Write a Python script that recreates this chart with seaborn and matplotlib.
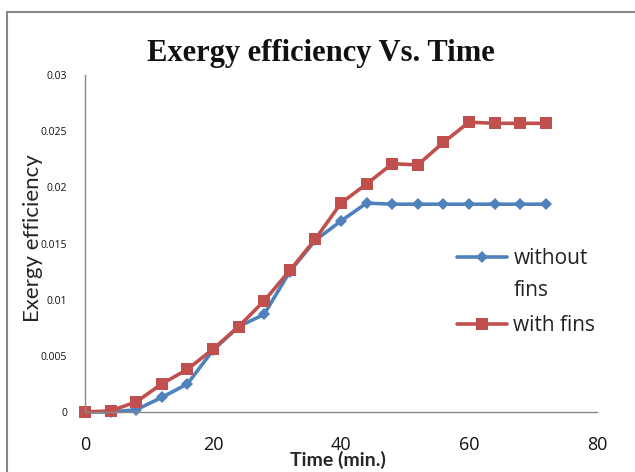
import matplotlib
matplotlib.use("Agg")
import matplotlib.pyplot as plt
import seaborn as sns
import pandas as pd
from matplotlib.patches import Rectangle

time_min = [0, 4, 8, 12, 16, 20, 24, 28, 32, 36, 40, 44, 48, 52, 56, 60, 64, 68, 72]
without_fins = [0.0, 0.0, 0.0002, 0.0013, 0.0025, 0.0055, 0.0076, 0.0087, 0.0125, 0.0153,
                0.0170, 0.0186, 0.0185, 0.0185, 0.0185, 0.0185, 0.0185, 0.0185, 0.0185]
with_fins = [0.0, 0.0001, 0.0009, 0.0025, 0.0038, 0.0056, 0.0076, 0.0099, 0.0126, 0.0154,
             0.0186, 0.0203, 0.0221, 0.0220, 0.0240, 0.0258, 0.0257, 0.0257, 0.0257]
series_names = ["without", "with fins"]
label_continuation = "fins"
y_ticks = [0, 0.005, 0.01, 0.015, 0.02, 0.025, 0.03]
y_tick_labels = ["0", "0.005", "0.01", "0.015", "0.02", "0.025", "0.03"]
x_ticks = [0, 20, 40, 60, 80]

df = pd.DataFrame({
    "Time": time_min * 2,
    "Eff": without_fins + with_fins,
    "Series": [series_names[0]] * len(time_min) + [series_names[1]] * len(time_min),
})

sns.set_theme(style="white")
plt.rcParams["font.family"] = ["Open Sans", "DejaVu Sans"]

fig = plt.figure(figsize=(6.35, 4.72), dpi=100)
ax = fig.add_axes([85 / 635, 1 - 412 / 472, (597 - 85) / 635, (412 - 75) / 472])

palette = {series_names[0]: "#4F81BD", series_names[1]: "#C0504D"}
markers = {series_names[0]: "D", series_names[1]: "s"}
sizes_m = {series_names[0]: 6, series_names[1]: 9}
for name in series_names:
    sub = df[df["Series"] == name]
    sns.lineplot(data=sub, x="Time", y="Eff", ax=ax, color=palette[name],
                 marker=markers[name], markersize=sizes_m[name], linewidth=2.6,
                 markeredgewidth=0, label=name)

ax.set_xlim(0, 80)
ax.set_ylim(0, 0.03)
ax.set_xticks(x_ticks)
ax.set_xticklabels([str(v) for v in x_ticks], fontsize=13, color="#111111")
ax.set_yticks(y_ticks)
ax.set_yticklabels(y_tick_labels, fontsize=7.5, color="#111111")
ax.tick_params(axis="y", length=3, color="#888888", pad=10)
ax.tick_params(axis="x", length=0, pad=17)
for sp in ["top", "right"]:
    ax.spines[sp].set_visible(False)
for sp in ["left", "bottom"]:
    ax.spines[sp].set_color("#888888")
    ax.spines[sp].set_linewidth(1)
for l in ax.lines:
    l.set_clip_on(False)

ax.set_xlabel("Time (min.)", fontsize=14, fontweight="bold", family=["Lato", "DejaVu Sans"],
              va="center")
ax.xaxis.set_label_coords((338 - 85) / 512, -(460 - 412) / 337)
ax.set_ylabel("Exergy efficiency", fontsize=16, family=["Lato", "DejaVu Sans"], va="center")
ax.yaxis.set_label_coords(-(85 - 33) / 512, 1 - (238 - 75) / 337)

fig.text(321 / 635, 1 - 54 / 472, "Exergy efficiency Vs. Time", fontsize=22, fontweight="bold",
         family=["Liberation Serif", "DejaVu Serif"], ha="center", va="center", color="#111111")

leg = ax.legend(loc="upper left", bbox_to_anchor=((457 - 85) / 512, 1 - (248 - 75) / 337),
                frameon=False, fontsize=15, handlelength=2.4, handletextpad=0.3,
                labelspacing=2.2, borderpad=0, borderaxespad=0)
for t in leg.get_texts():
    t.set_color("#222222")

fig.canvas.draw()
bb = leg.get_texts()[0].get_window_extent()
fig.text(bb.x0 / fig.bbox.width, 1 - 291 / 472, label_continuation, fontsize=15,
         color="#222222", ha="left", va="center")

fig.patches.append(Rectangle((7 / 635, -0.05), 1.1, 1 - 12 / 472 + 0.05,
                             transform=fig.transFigure, fill=False,
                             edgecolor="#888888", linewidth=1.5))

fig.savefig("out.png", dpi=100)
